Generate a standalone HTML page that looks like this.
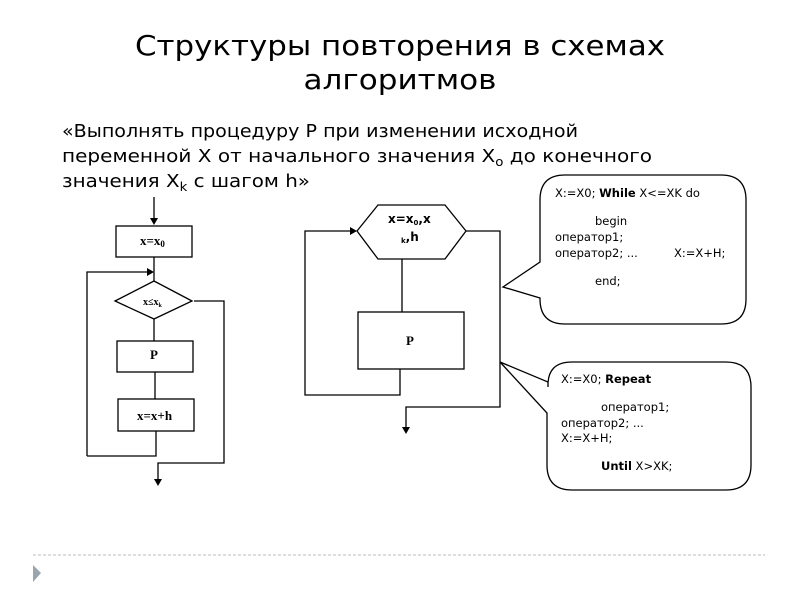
<!DOCTYPE html>
<html><head><meta charset="utf-8"><style>
html,body{margin:0;padding:0;background:#fff;}
svg{display:block;}
</style></head><body>
<svg width="800" height="600" viewBox="0 0 800 600" xmlns="http://www.w3.org/2000/svg">
<rect width="800" height="600" fill="#fff"/>
<g font-family="DejaVu Sans, Liberation Sans, sans-serif" fill="#000">
<text x="400" y="55" font-size="28" text-anchor="middle" textLength="530" lengthAdjust="spacingAndGlyphs">Структуры повторения в схемах</text>
<text x="400" y="89" font-size="28" text-anchor="middle" textLength="193" lengthAdjust="spacingAndGlyphs">алгоритмов</text>
<text x="62" y="137" font-size="18" textLength="516" lengthAdjust="spacingAndGlyphs">«Выполнять процедуру Р при изменении исходной</text>
<text x="62" y="162" font-size="18" textLength="590" lengthAdjust="spacingAndGlyphs">переменной X от начального значения X<tspan font-size="12" dy="4">o</tspan><tspan dy="-4"> до конечного</tspan></text>
<text x="62" y="187" font-size="18" textLength="248" lengthAdjust="spacingAndGlyphs">значения X<tspan font-size="12" dy="4">k</tspan><tspan dy="-4"> с шагом h»</tspan></text>
</g>
<g stroke="#000" stroke-width="1.3" fill="none">
<line x1="154" y1="197" x2="154" y2="222"/>
<rect x="116" y="226" width="76" height="31"/>
<line x1="154" y1="257" x2="154" y2="281"/>
<polyline points="87,456 87,272 150,272"/>
<polygon points="154,281 192,301 154,319 115,301"/>
<line x1="154" y1="319" x2="154" y2="341"/>
<rect x="117" y="341" width="76" height="31"/>
<line x1="155" y1="372" x2="155" y2="399"/>
<rect x="118" y="399" width="76" height="32"/>
<polyline points="156,431 156,456 87,456"/>
<polyline points="194,301 224,301 224,463 158,463 158,482"/>
<polygon points="357,231 378,205 445,205 466,231 445,259 378,259"/>
<polyline points="466,231 500,231 500,407 406,407 406,430"/>
<line x1="402" y1="259" x2="402" y2="312"/>
<rect x="358" y="312" width="106" height="57"/>
<polyline points="400,369 400,395 305,395 305,231 352,231"/>
<path d="M565,175 H721 Q746,175 746,200 V299 Q746,324 721,324 H565 Q540,324 540,299 V298 L503,287 L540,262 V200 Q540,175 565,175 Z"/>
<path d="M572,362 H726 Q751,362 751,387 V465 Q751,490 726,490 H572 Q547,490 547,465 V413 L500,362 L548,382 V387 Q547,362 572,362 Z"/>
</g>
<g fill="#000">
<polygon points="150,218 158,218 154,225"/>
<polygon points="147,268 154,272 147,276"/>
<polygon points="154,479 162,479 158,486"/>
<polygon points="350,227 357,231 350,235"/>
<polygon points="402,427 410,427 406,434"/>
</g>
<g font-family="Liberation Serif, serif" font-weight="bold" font-size="13" fill="#000">
<text x="140" y="245">x=x<tspan font-size="9" dy="2">0</tspan></text>
<text x="143" y="305" font-size="10">x≤x<tspan font-size="6" dy="2">k</tspan></text>
<text x="150" y="359">P</text>
<text x="137" y="420">x=x+h</text>
<text x="406" y="345">P</text>
</g>
<g font-family="DejaVu Sans, sans-serif" font-weight="bold" font-size="12" fill="#000">
<text x="388" y="223">x=x<tspan font-size="7" dy="2">0</tspan><tspan dy="-2">,x</tspan></text>
<text x="401" y="241"><tspan font-size="7" dy="2">k</tspan><tspan dy="-2">,h</tspan></text>
</g>
<g font-family="DejaVu Sans, sans-serif" font-size="11.5" fill="#000">
<text x="555" y="197">X:=X0; <tspan font-weight="bold">While</tspan> X&lt;=XK do</text>
<text x="595" y="225">begin</text>
<text x="555" y="241">оператор1;</text>
<text x="555" y="257">оператор2; ...</text>
<text x="674" y="257">X:=X+H;</text>
<text x="595" y="285">end;</text>
<text x="561" y="383">X:=X0; <tspan font-weight="bold">Repeat</tspan></text>
<text x="601" y="411">оператор1;</text>
<text x="561" y="427">оператор2; ...</text>
<text x="561" y="442">X:=X+H;</text>
<text x="601" y="470"><tspan font-weight="bold">Until</tspan> X&gt;XK;</text>
</g>
<line x1="33" y1="555" x2="765" y2="555" stroke="#bbb" stroke-width="1" stroke-dasharray="3,2"/>
<polygon points="33,565 41,573 33,582" fill="#9aa5ad"/>
</svg>
</body></html>
